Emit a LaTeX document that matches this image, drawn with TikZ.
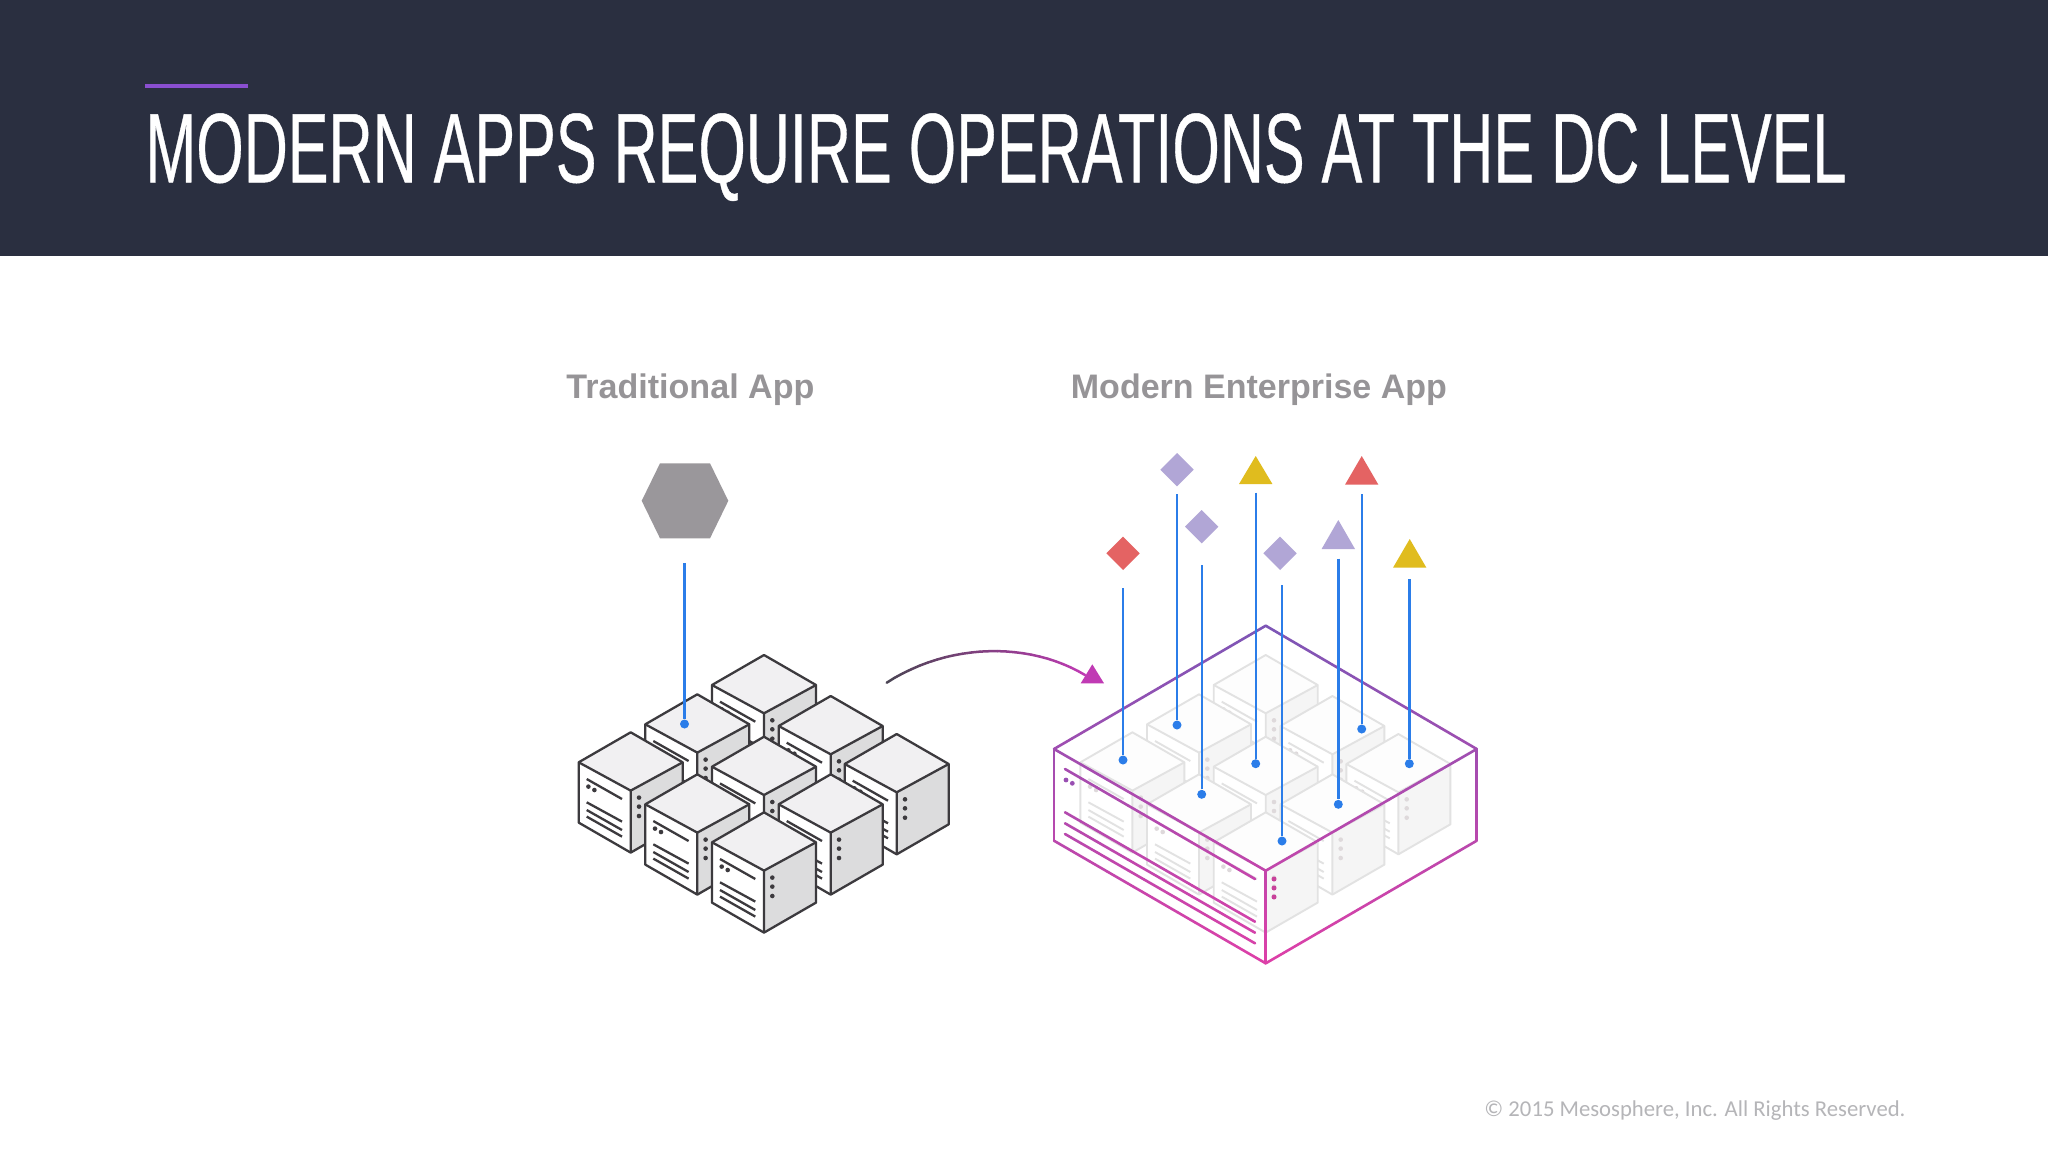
\documentclass[tikz,border=0pt]{standalone}
\usepackage{graphicx}
\usepackage{fontspec}
\setmainfont{Liberation Sans}
\newfontfamily\footfont{Carlito}
\newfontfamily\titlefont[FakeBold=0.5]{Liberation Sans}
\definecolor{hdr}{HTML}{2A2F40}
\definecolor{rule}{HTML}{8A4FD0}
\definecolor{lbl}{HTML}{969497}
\definecolor{foot}{HTML}{B5B5B8}
\definecolor{pin}{HTML}{2B7DE9}
\definecolor{ink}{HTML}{3C3A3E}
\definecolor{topf}{HTML}{F1F0F2}
\definecolor{sidef}{HTML}{DCDCDD}
\definecolor{gline}{HTML}{E2E2E2}
\definecolor{gtop}{HTML}{FDFDFD}
\definecolor{gside}{HTML}{F5F5F5}
\definecolor{gdot}{HTML}{DED9DB}
\definecolor{boxa}{HTML}{7C56B6}
\definecolor{boxb}{HTML}{DD40A8}
\definecolor{arra}{HTML}{4A4553}
\definecolor{arrb}{HTML}{C03AB4}
\definecolor{lav}{HTML}{B1A6D6}
\definecolor{gold}{HTML}{E0BC1E}
\definecolor{coral}{HTML}{E46363}
\definecolor{hexg}{HTML}{9A979B}
\definecolor{boxdot}{HTML}{C8409A}
% server cube: x y stroke top side dot width(px)
\newcommand{\srv}[7]{%
  \begin{scope}[shift={(#1,#2)},draw=#3,line width=#7*0.5pt,line join=round]
    \fill[white] (-52,30) -- (0,58.3) -- (0,120.3) -- (-52,90.3) -- cycle;
    \fill[#5] (52,30) -- (0,58.3) -- (0,120.3) -- (52,90.3) -- cycle;
    \fill[#4] (0,0) -- (52,30) -- (0,58.3) -- (-52,30) -- cycle;
    \draw (0,0) -- (52,30) -- (52,90.3) -- (0,120.3) -- (-52,90.3) -- (-52,30) -- cycle;
    \draw (-52,30) -- (0,58.3) -- (52,30) (0,58.3) -- (0,120.3);
    \draw (-44,46.7) -- (-8.7,66.7);
    \draw (-44,70) -- (-8.7,89.3);
    \draw (-44,77.7) -- (-8.7,97.7);
    \draw (-44,84.3) -- (-8.7,104.3);
    \fill[#6] (-42.3,54.3) circle[radius=2.3];
    \fill[#6] (-36.3,57.7) circle[radius=2.3];
    \fill[#6] (8.3,65.3) circle[radius=2.3];
    \fill[#6] (8.3,74.3) circle[radius=2.3];
    \fill[#6] (8.3,83.7) circle[radius=2.3];
  \end{scope}}
% cluster of nine cubes
\newcommand{\cluster}[6]{%
  \srv{#1+0}{655}{#2}{#3}{#4}{#5}{#6}
  \srv{#1-66.7}{694.3}{#2}{#3}{#4}{#5}{#6}
  \srv{#1+66.7}{696}{#2}{#3}{#4}{#5}{#6}
  \srv{#1-133.3}{732.3}{#2}{#3}{#4}{#5}{#6}
  \srv{#1+0}{736.7}{#2}{#3}{#4}{#5}{#6}
  \srv{#1+132.7}{734}{#2}{#3}{#4}{#5}{#6}
  \srv{#1-66.7}{774.3}{#2}{#3}{#4}{#5}{#6}
  \srv{#1+66.7}{774.3}{#2}{#3}{#4}{#5}{#6}
  \srv{#1+0}{812.3}{#2}{#3}{#4}{#5}{#6}}
% straight line whose colour follows its height
\newcommand{\gradline}[4]{%
  \foreach \i in {0,...,11}{%
    \pgfmathsetmacro\ta{\i/12}%
    \pgfmathsetmacro\tb{(\i+1)/12}%
    \pgfmathsetmacro\mix{min(100,max(0,((#2+(#4-#2)*(\ta+\tb)/2)-625)/338*100))}%
    \draw[boxedge,draw=boxb!\mix!boxa] ({#1+(#3-#1)*\ta},{#2+(#4-#2)*\ta}) -- ({#1+(#3-#1)*\tb},{#2+(#4-#2)*\tb});
  }}
% pin: name, line x, line top, dot y
\newcommand{\pinline}[4]{%
  \coordinate (#1a) at (#2,#3);
  \node[pindot] (#1b) at (#2,#4) {};
  \draw[pinln] (#1a) -- (#1b);}
\newcommand{\dia}[3]{\fill[#3] (#1,#2-16.7) -- (#1+16.7,#2) -- (#1,#2+16.7) -- (#1-16.7,#2) -- cycle;}
\newcommand{\tri}[4]{\fill[#4] (#1,#2) -- (#1+16.7,#3) -- (#1-16.7,#3) -- cycle;}
\tikzset{
  pindot/.style={circle,fill=pin,inner sep=0pt,minimum size=4.5pt},
  pinln/.style={draw=pin,line width=1.2pt},
  boxedge/.style={line width=1.3pt,line cap=round},
  labeltxt/.style={anchor=base west,inner sep=0pt,text=lbl,font=\bfseries}
}
\begin{document}
\begin{tikzpicture}[x=0.5pt,y=-0.5pt]
\useasboundingbox (0,0) rectangle (2048,1152);
\fill[white] (0,0) rectangle (2048,1152);
\fill[hdr] (0,0) rectangle (2048,256);
\fill[rule] (145,84.2) rectangle (247.5,87.6);
\node[anchor=base west,inner sep=0pt,text=white] (title) at (145,182.3)
  {\resizebox{850.5pt}{34.5pt}{\titlefont MODERN APPS REQUIRE OPERATIONS AT THE DC LEVEL}};
\node[labeltxt] (lblA) at (566,398) {\resizebox{124pt}{!}{\fontsize{17}{20}\selectfont\bfseries Traditional App}};
\node[labeltxt] (lblB) at (1070.5,398) {\resizebox{188pt}{!}{\fontsize{17}{20}\selectfont\bfseries Modern Enterprise App}};
\node[anchor=base west,inner sep=0pt,text=foot] (footer) at (1484,1116)
  {\resizebox{210.5pt}{!}{\footfont\fontsize{12}{14}\selectfont © 2015 Mesosphere, Inc. All Rights Reserved.}};

% traditional app
\cluster{764}{ink}{topf}{sidef}{ink}{2.3}
\fill[hexg] (660,463.3) -- (710,463.3) -- (728.3,500.8) -- (710,538.3) -- (660,538.3) -- (641.7,500.8) -- cycle;
\pinline{t}{684.5}{563.3}{724}

% arrow
\foreach \i in {0,...,23}{%
  \pgfmathsetmacro\ta{\i/24}\pgfmathsetmacro\tb{(\i+1)/24}%
  \pgfmathsetmacro\mix{(\ta+\tb)/2*100}%
  \pgfmathsetmacro\xa{(1-\ta)^3*886.7+3*(1-\ta)^2*\ta*950+3*(1-\ta)*\ta^2*1030+\ta^3*1085}%
  \pgfmathsetmacro\ya{(1-\ta)^3*682.7+3*(1-\ta)^2*\ta*642+3*(1-\ta)*\ta^2*642+\ta^3*675}%
  \pgfmathsetmacro\xb{(1-\tb)^3*886.7+3*(1-\tb)^2*\tb*950+3*(1-\tb)*\tb^2*1030+\tb^3*1085}%
  \pgfmathsetmacro\yb{(1-\tb)^3*682.7+3*(1-\tb)^2*\tb*642+3*(1-\tb)*\tb^2*642+\tb^3*675}%
  \draw[draw=arrb!\mix!arra,line width=1.25pt,line cap=round] (\xa,\ya) -- (\xb,\yb);
}
\fill[arrb] (1092.3,664.3) -- (1104,683.3) -- (1080.7,683.3) -- cycle;

% modern enterprise app
\cluster{1265.7}{gline}{gtop}{gside}{gdot}{1.9}
\gradline{1265.7}{625.7}{1476.7}{749}
\gradline{1265.7}{625.7}{1054}{749}
\gradline{1054}{749}{1265.7}{870.7}
\gradline{1476.7}{749}{1265.7}{870.7}
\gradline{1054}{749}{1054}{840.7}
\gradline{1476.7}{749}{1476.7}{840.7}
\gradline{1265.7}{870.7}{1265.7}{963.3}
\gradline{1054}{840.7}{1265.7}{963.3}
\gradline{1476.7}{840.7}{1265.7}{963.3}
\gradline{1065}{769}{1255}{879}
\gradline{1065}{812.3}{1255}{921.7}
\gradline{1065}{823.3}{1255}{932.7}
\gradline{1065}{834}{1255}{943.3}
\fill[boxa!70!boxb] (1066,780) circle[radius=2.4];
\fill[boxa!70!boxb] (1072.3,783.3) circle[radius=2.4];
\fill[boxdot] (1274,879) circle[radius=2.5];
\fill[boxdot] (1274,888) circle[radius=2.5];
\fill[boxdot] (1274,897) circle[radius=2.5];

% app symbols and pins
\dia{1123}{553.3}{coral}
\dia{1177}{469.7}{lav}
\dia{1201.7}{526.7}{lav}
\dia{1280}{553.3}{lav}
\tri{1255.7}{456}{484}{gold}
\tri{1338.3}{520}{549}{lav}
\tri{1361.7}{456}{484.7}{coral}
\tri{1409.7}{539}{567.7}{gold}
\pinline{a}{1123}{588}{760}
\pinline{b}{1177}{494}{725}
\pinline{c}{1201.7}{565.3}{794.3}
\pinline{d}{1255.7}{492.7}{763.7}
\pinline{e}{1282}{585.3}{841}
\pinline{f}{1338.3}{558.7}{804.3}
\pinline{g}{1361.7}{494}{729}
\pinline{h}{1409.3}{579.3}{763.7}
\end{tikzpicture}
\end{document}
